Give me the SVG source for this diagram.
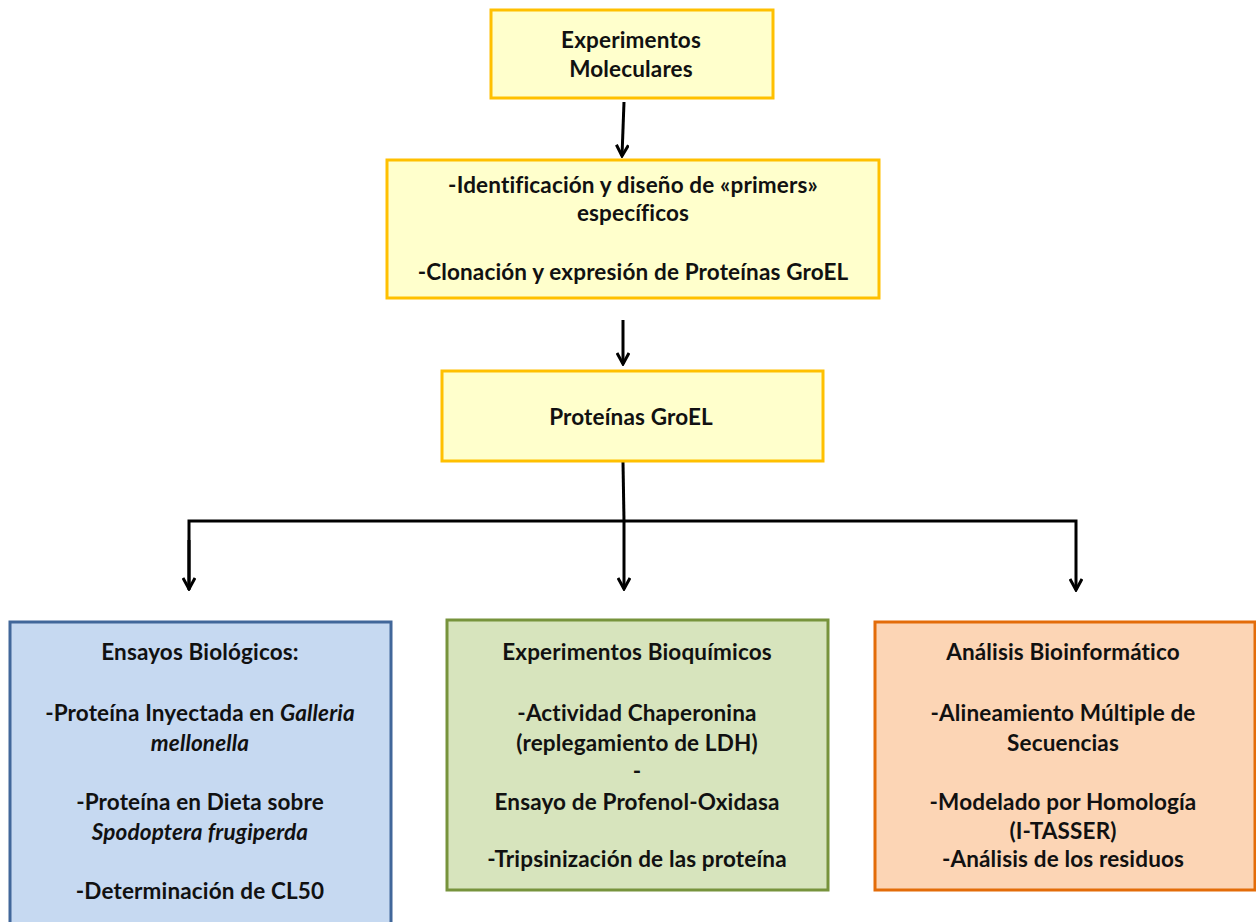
<svg xmlns="http://www.w3.org/2000/svg" width="1256" height="922" viewBox="0 0 1256 922">
<defs>
<style>
.t{font-family:"Lato","Liberation Sans",sans-serif;font-weight:bold;font-size:22.5px;letter-spacing:0.15px;fill:#111;text-anchor:middle}
.i{font-style:italic}
.y{fill:#FFFFCC;stroke:#FFC000;stroke-width:3}
.c{fill:none;stroke:#000;stroke-width:3}
</style>
<marker id="ah" viewBox="0 0 14 14" refX="12" refY="7" markerWidth="14" markerHeight="14" markerUnits="userSpaceOnUse" orient="auto">
<path d="M1,1 L12,7 L1,13" fill="none" stroke="#000" stroke-width="3"/>
</marker>
</defs>
<rect width="1256" height="922" fill="#fff"/>
<g id="connectors">
<line class="c" x1="624" y1="102" x2="622" y2="156" marker-end="url(#ah)"/>
<line class="c" x1="623" y1="320" x2="623" y2="364" marker-end="url(#ah)"/>
<line class="c" x1="623" y1="462" x2="624" y2="521"/>
<polyline class="c" points="189,590 189,521 1076,521 1076,590" marker-end="url(#ah)"/>
<line class="c" x1="189" y1="540" x2="189" y2="589" marker-end="url(#ah)"/>
<line class="c" x1="624" y1="521" x2="624" y2="589" marker-end="url(#ah)"/>
</g>
<g id="n1">
<rect class="y" x="491" y="10" width="282" height="88"/>
<text class="t" x="631" y="48">Experimentos</text>
<text class="t" x="631" y="77">Moleculares</text>
</g>
<g id="n2">
<rect class="y" x="387" y="160" width="492" height="138"/>
<text class="t" x="633" y="193">-Identificación y diseño de «primers»</text>
<text class="t" x="633" y="221">específicos</text>
<text class="t" x="633" y="280">-Clonación y expresión de Proteínas GroEL</text>
</g>
<g id="n3">
<rect class="y" x="442" y="371" width="381" height="90"/>
<text class="t" x="631" y="425">Proteínas GroEL</text>
</g>
<g id="n4">
<rect x="10" y="622" width="381" height="310" fill="#C6D9F1" stroke="#41679A" stroke-width="3"/>
<text class="t" x="200" y="660">Ensayos Biológicos:</text>
<text class="t" x="200" y="721">-Proteína Inyectada en <tspan class="i">Galleria</tspan></text>
<text class="t i" x="200" y="751">mellonella</text>
<text class="t" x="200" y="810">-Proteína en Dieta sobre</text>
<text class="t i" x="200" y="840">Spodoptera frugiperda</text>
<text class="t" x="200" y="899">-Determinación de CL50</text>
</g>
<g id="n5">
<rect x="447" y="620" width="381" height="270" fill="#D7E4BD" stroke="#77933C" stroke-width="3"/>
<text class="t" x="637" y="660">Experimentos Bioquímicos</text>
<text class="t" x="637" y="721">-Actividad Chaperonina</text>
<text class="t" x="637" y="751">(replegamiento de LDH)</text>
<text class="t" x="637" y="779">-</text>
<text class="t" x="637" y="810">Ensayo de Profenol-Oxidasa</text>
<text class="t" x="637" y="867">-Tripsinización de las proteína</text>
</g>
<g id="n6">
<rect x="875" y="622" width="380" height="268" fill="#FCD5B5" stroke="#E36C09" stroke-width="3"/>
<text class="t" x="1063" y="660">Análisis Bioinformático</text>
<text class="t" x="1063" y="721">-Alineamiento Múltiple de</text>
<text class="t" x="1063" y="751">Secuencias</text>
<text class="t" x="1063" y="810">-Modelado por Homología</text>
<text class="t" x="1063" y="839">(I-TASSER)</text>
<text class="t" x="1063" y="867">-Análisis de los residuos</text>
</g>
</svg>
